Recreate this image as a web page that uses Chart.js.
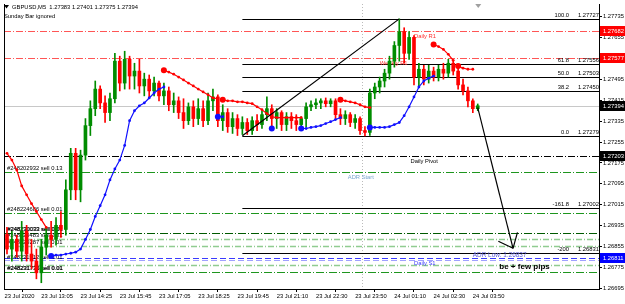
<!DOCTYPE html>
<html><head><meta charset="utf-8">
<script src="https://cdn.jsdelivr.net/npm/chart.js@4/dist/chart.umd.min.js"></script>
<style>html,body{margin:0;padding:0;background:#fff;overflow:hidden}canvas{display:block}</style>
</head><body>
<canvas id="c" width="625" height="304"></canvas>
<script>
// ---------- DATA ----------
const symbolTitle = 'GBPUSD,M5  1.27383 1.27401 1.27375 1.27394';
const subTitle = 'Sunday Bar ignored';

const openP = [
1.26901,1.26845,1.26882,1.26837,1.26913,1.26826,1.26799,1.26754,1.26852,1.26898,
1.26882,1.26936,1.26920,1.27072,1.27212,1.27072,1.27205,1.27318,1.27383,1.27458,
1.27405,1.27368,1.27421,1.27565,1.27481,1.27572,1.27508,1.27527,1.27470,1.27496,
1.27451,1.27481,1.27432,1.27451,1.27398,1.27413,1.27368,1.27337,1.27390,1.27345,
1.27383,1.27337,1.27413,1.27428,1.27337,1.27368,1.27314,1.27345,1.27307,1.27330,
1.27299,1.27337,1.27322,1.27360,1.27383,1.27345,1.27368,1.27322,1.27352,1.27337,
1.27322,1.27345,1.27390,1.27398,1.27405,1.27413,1.27402,1.27413,1.27360,1.27345,
1.27360,1.27330,1.27345,1.27299,1.27292,1.27443,1.27466,1.27489,1.27519,1.27565,
1.27625,1.27678,1.27595,1.27656,1.27504,1.27534,1.27496,1.27527,1.27504,1.27534,
1.27519,1.27557,1.27527,1.27474,1.27451,1.27413,1.27383];
const highP = [
1.26928,1.26913,1.26898,1.26951,1.26936,1.26882,1.26845,1.26882,1.26928,1.26951,
1.26966,1.26989,1.27110,1.27231,1.27231,1.27224,1.27345,1.27413,1.27489,1.27470,
1.27432,1.27443,1.27595,1.27584,1.27603,1.27584,1.27557,1.27572,1.27519,1.27512,
1.27504,1.27489,1.27481,1.27466,1.27443,1.27428,1.27421,1.27405,1.27413,1.27421,
1.27413,1.27443,1.27458,1.27436,1.27398,1.27383,1.27368,1.27360,1.27352,1.27345,
1.27352,1.27360,1.27375,1.27428,1.27398,1.27383,1.27375,1.27368,1.27368,1.27360,
1.27352,1.27405,1.27413,1.27421,1.27421,1.27424,1.27421,1.27421,1.27383,1.27375,
1.27368,1.27360,1.27352,1.27314,1.27458,1.27481,1.27504,1.27534,1.27584,1.27640,
1.27727,1.27693,1.27678,1.27663,1.27557,1.27549,1.27549,1.27542,1.27549,1.27557,
1.27572,1.27565,1.27542,1.27496,1.27466,1.27421,1.27401];
const lowP = [
1.26826,1.26799,1.26814,1.26799,1.26799,1.26769,1.26731,1.26716,1.26822,1.26852,
1.26860,1.26890,1.26898,1.27034,1.27034,1.27026,1.27186,1.27280,1.27356,1.27383,
1.27330,1.27337,1.27405,1.27451,1.27458,1.27458,1.27458,1.27443,1.27432,1.27428,
1.27432,1.27413,1.27398,1.27375,1.27368,1.27345,1.27307,1.27322,1.27314,1.27322,
1.27314,1.27322,1.27375,1.27314,1.27299,1.27292,1.27288,1.27280,1.27284,1.27284,
1.27284,1.27299,1.27307,1.27337,1.27314,1.27307,1.27299,1.27299,1.27307,1.27299,
1.27299,1.27314,1.27375,1.27383,1.27383,1.27390,1.27390,1.27345,1.27322,1.27322,
1.27314,1.27307,1.27284,1.27279,1.27280,1.27421,1.27443,1.27466,1.27496,1.27542,
1.27565,1.27557,1.27572,1.27474,1.27466,1.27474,1.27481,1.27489,1.27489,1.27496,
1.27504,1.27512,1.27458,1.27436,1.27390,1.27368,1.27375];
const closeP = [
1.26845,1.26882,1.26837,1.26913,1.26826,1.26799,1.26754,1.26852,1.26898,1.26882,
1.26936,1.26920,1.27072,1.27212,1.27072,1.27205,1.27318,1.27383,1.27458,1.27405,
1.27368,1.27421,1.27565,1.27481,1.27572,1.27508,1.27527,1.27470,1.27496,1.27451,
1.27481,1.27432,1.27451,1.27398,1.27413,1.27368,1.27337,1.27390,1.27345,1.27383,
1.27337,1.27413,1.27428,1.27337,1.27368,1.27314,1.27345,1.27307,1.27330,1.27299,
1.27337,1.27322,1.27360,1.27383,1.27345,1.27368,1.27322,1.27352,1.27337,1.27322,
1.27345,1.27390,1.27398,1.27405,1.27413,1.27402,1.27413,1.27360,1.27345,1.27360,
1.27330,1.27345,1.27299,1.27292,1.27443,1.27466,1.27489,1.27519,1.27565,1.27625,
1.27678,1.27595,1.27656,1.27504,1.27534,1.27496,1.27527,1.27504,1.27534,1.27519,
1.27557,1.27527,1.27474,1.27451,1.27413,1.27383,1.27394];

// indicator dot segments (value per bar, starting at given bar)
const redSegStarts = [0, 32, 44, 68, 87, 92];
const redSeg1 = [1.27212,1.27186,1.27148,1.27087,1.27053,1.27019,1.26989,1.26958,1.26928];
const redSeg2 = [1.27530,1.27523,1.27515,1.27504,1.27493,1.27481,1.27470,1.27458,1.27447,1.27436,1.27424,1.27421];
const redSeg3 = [1.27417,1.27413,1.27413,1.27409,1.27409,1.27405,1.27402,1.27390,1.27379,1.27364,1.27352,1.27349,1.27349,1.27349,1.27349,1.27349,1.27349];
const redSeg4 = [1.27417,1.27413,1.27409,1.27405,1.27398,1.27390,1.27387];
const redSeg5 = [1.27629,1.27621,1.27610,1.27591,1.27568];
const redSeg6 = [1.27546,1.27538,1.27534,1.27534];
const blueSegStarts = [9, 43, 54, 60, 74];
const blueSeg1 = [1.26818,1.26822,1.26822,1.26826,1.26829,1.26833,1.26845,1.26882,1.26920,1.26970,1.27011,1.27053,1.27110,1.27152,1.27186,1.27242,1.27337,1.27375,1.27394,1.27405,1.27424,1.27443,1.27458,1.27466];
const blueSeg2 = [1.27352,1.27352];
const blueSeg3 = [1.27307];
const blueSeg4 = [1.27307,1.27307,1.27311,1.27314,1.27318,1.27326,1.27333,1.27341,1.27349];
const blueSeg5 = [1.27311,1.27311,1.27311,1.27311,1.27314,1.27322,1.27330,1.27356,1.27390,1.27428,1.27466,1.27489,1.27500,1.27508];

// axis labels
const timeLabels = ['23 Jul 2020','23 Jul 13:05','23 Jul 14:25','23 Jul 15:45','23 Jul 17:05','23 Jul 18:25','23 Jul 19:45','23 Jul 21:10','23 Jul 22:30','23 Jul 23:50','24 Jul 01:10','24 Jul 02:30','24 Jul 03:50'];
const timeLabelBars = [-0.5,7,15,23,31,39,47,55,63,71,79,87,95];
const priceTicks = [1.26695,1.26775,1.26855,1.26935,1.27015,1.27095,1.27175,1.27255,1.27335,1.27415,1.27495,1.27575,1.27655,1.27735];

// price tags on the axis
const tagPrices = [1.27682, 1.27577, 1.27394, 1.27203, 1.26811];
const tagKinds  = ['red','red','black','black','blue'];

// pivot levels
const pivotNames  = ['Daily R1','Weekly R1','Daily Pivot','Daily S1'];
const pivotPrices = [1.27682, 1.27577, 1.27203, 1.26811];
const pivotLabelBars = [83, 76, 82.3, 83];

// order / other horizontal lines
const orderPrices = [1.27140, 1.26985, 1.26905, 1.26882, 1.26856, 1.26803, 1.26784, 1.26757];
const orderKinds  = ['green','green','dgreen','pgreen','pgreen','pblue','pgreen','green'];
const orderLabels = ['#248202932 sell 0.13','#248224686 sell 0.01','#248230033 sell 0.01','#248229483 sell 0.01','#248229287 sell 0.01','','','#248231735 sell 0.01'];
const s1OrderLabel = '#248231512 sell 0.01';
const bidPrice = 1.27394;

// ADR
const adrStartPrice = 1.27140, adrStartBar = 69.5;
const adrLowPrice = 1.26837, adrLowBar = 95;

// fibonacci
const fibLevels = ['100.0','61.8','50.0','38.2','0.0','-161.8','-200'];
const fibPrices = [1.27727, 1.27556, 1.27503, 1.27450, 1.27279, 1.27002, 1.26831];
const fibStartBar = 48;

// trend line and arrow (bar, price)
const trendFrom = [48, 1.27279], trendTo = [80, 1.27727];
const arrowFrom = [96, 1.27387], arrowTo = [103.2, 1.26848];
const arrowArmL = [100.2, 1.26875], arrowArmR = [104.1, 1.26909];
const noteText = 'be + few pips', noteBar = 100.4, notePrice = 1.26776;
const daySeparatorBar = 72.3;
const shiftMarkerBar = 96.1;

// ---------- STYLES ----------
const C_UP = '#008c00', C_DN = '#ff0000';
const lineStyles = {
  red:   {c:'#ff5555', d:[7,2,1,2], w:1},
  black: {c:'#000000', d:[7,2,1,2], w:1},
  green: {c:'#1e961e', d:[8,2,1,2], w:1},
  dgreen:{c:'#005a00', d:[8,2,1,2], w:1},
  pgreen:{c:'#90cc90', d:[6,2,1,2], w:1.3},
  blue:  {c:'#3a3aff', d:[6,3], w:1.2},
  pblue: {c:'#a0a0ff', d:[6,3], w:1.2}
};
const FONT = '"Liberation Sans", Arial, sans-serif';
Chart.defaults.font.family = FONT;

function candleColors(){ return openP.map((o,i)=> closeP[i] >= o ? C_UP : C_DN); }
function seg(start, arr){ return arr.map((v,k)=>({x:start+k, y:v})); }

const colors = candleColors();
const datasets = [
  {type:'bar', label:'wick', data: openP.map((o,i)=>({x:i, y:[lowP[i], highP[i]]})),
   backgroundColor: colors, barThickness:1, grouped:false, order:10},
  {type:'bar', label:'body', data: openP.map((o,i)=>({x:i, y:[o, closeP[i]]})),
   backgroundColor: colors, barThickness:3, grouped:false, minBarLength:1, order:9}
];
const redSegs = [redSeg1, redSeg2, redSeg3, redSeg4, redSeg5, redSeg6];
const blueSegs = [blueSeg1, blueSeg2, blueSeg3, blueSeg4, blueSeg5];
function dotSet(arr, start, color){
  // a segment that begins at the first bar continues from off-screen: no start marker
  return {type:'line', data: seg(start, arr), borderColor: color, backgroundColor: color,
    borderWidth: 1.2, pointRadius: arr.map((v,k)=> (k===0 && start>0) ? 3 : 1.4), pointBorderWidth:0,
    pointBackgroundColor: color, tension:0, order:1};
}
redSegs.forEach((s,i)=>datasets.push(dotSet(s, redSegStarts[i], '#ff0000')));
blueSegs.forEach((s,i)=>datasets.push(dotSet(s, blueSegStarts[i], '#1010ff')));

// ---------- OVERLAY PLUGIN ----------
function font(sz, bold){ return (bold?'bold ':'') + sz + 'px ' + FONT; }
const overlay = {
  id:'overlay',
  beforeDatasetsDraw(chart){
    const {ctx, chartArea:a, scales:{x, y}} = chart;
    ctx.save();
    ctx.beginPath(); ctx.rect(a.left, a.top, a.right-a.left, a.bottom-a.top); ctx.clip();
    const py = p => Math.round(y.getPixelForValue(p)) + 0.5;
    function hline(p, st, x0){
      ctx.strokeStyle = st.c; ctx.lineWidth = st.w; ctx.setLineDash(st.d);
      ctx.beginPath(); ctx.moveTo(x0==null?a.left:x0, py(p)); ctx.lineTo(a.right, py(p)); ctx.stroke();
    }
    // day separator
    ctx.strokeStyle = '#bbbbbb'; ctx.lineWidth = 1; ctx.setLineDash([1,2]);
    const sx = Math.round(x.getPixelForValue(daySeparatorBar))+0.5;
    ctx.beginPath(); ctx.moveTo(sx, a.top); ctx.lineTo(sx, a.bottom); ctx.stroke();
    // bid line
    ctx.strokeStyle = '#c8c8c8'; ctx.setLineDash([]);
    ctx.beginPath(); ctx.moveTo(a.left, py(bidPrice)); ctx.lineTo(a.right, py(bidPrice)); ctx.stroke();
    // pivots
    hline(pivotPrices[0], lineStyles.red);
    hline(pivotPrices[1], lineStyles.red);
    hline(pivotPrices[2], lineStyles.black);
    hline(pivotPrices[3], lineStyles.blue);
    // orders
    orderPrices.forEach((p,i)=>hline(p, lineStyles[orderKinds[i]]));
    // fib lines
    ctx.setLineDash([]); ctx.strokeStyle = '#000'; ctx.lineWidth = 1;
    const fx = x.getPixelForValue(fibStartBar);
    fibPrices.forEach(p=>{ ctx.beginPath(); ctx.moveTo(fx, py(p)); ctx.lineTo(a.right, py(p)); ctx.stroke(); });
    // texts behind candles
    ctx.textBaseline = 'top'; ctx.textAlign = 'left';
    ctx.font = font(5.8);
    const pivotColors = ['#ff3030','#ff3030','#000000','#3c3cff'];
    pivotNames.forEach((n,i)=>{ ctx.fillStyle = pivotColors[i]; ctx.fillText(n, x.getPixelForValue(pivotLabelBars[i]), py(pivotPrices[i])+2); });
    ctx.fillStyle = '#7aa6d0'; ctx.fillText('ADR Start', x.getPixelForValue(adrStartBar), py(adrStartPrice)+1.5);
    ctx.fillStyle = '#5a5ad8'; ctx.font = font(6.4);
    ctx.fillText('ADR Low: ' + adrLowPrice.toFixed(5), x.getPixelForValue(adrLowBar), py(adrLowPrice)+0.5);
    // order labels (above their lines, at left)
    ctx.font = font(5.8); ctx.fillStyle = '#000'; ctx.textBaseline = 'bottom';
    orderLabels.forEach((t,i)=>{ if(!t) return; ctx.fillText(t, a.left+3, py(orderPrices[i])-1);
      if (orderKinds[i]==='dgreen' || i===orderLabels.length-1) ctx.fillText(t, a.left+3.6, py(orderPrices[i])-1.4); });
    ctx.fillText(s1OrderLabel, a.left+3, py(pivotPrices[3])+2);
    ctx.restore();
  },
  afterDatasetsDraw(chart){
    const {ctx, chartArea:a, scales:{x, y}} = chart;
    ctx.save();
    const P = pt => [x.getPixelForValue(pt[0]), y.getPixelForValue(pt[1])];
    ctx.strokeStyle = '#000'; ctx.lineWidth = 1.2; ctx.setLineDash([]);
    function seg2(p0, p1){ const A=P(p0), B=P(p1); ctx.beginPath(); ctx.moveTo(A[0],A[1]); ctx.lineTo(B[0],B[1]); ctx.stroke(); }
    seg2(trendFrom, trendTo);
    seg2(arrowFrom, arrowTo);
    seg2(arrowTo, arrowArmL);
    seg2(arrowTo, arrowArmR);
    // fib labels
    ctx.font = font(5.8); ctx.fillStyle = '#000'; ctx.textBaseline = 'bottom';
    fibPrices.forEach((p,i)=>{
      const yy = Math.round(y.getPixelForValue(p)) - 0.5;
      ctx.textAlign = 'right'; ctx.fillText(fibLevels[i], a.right-30, yy);
      ctx.textAlign = 'left'; ctx.fillText(p.toFixed(5), a.right-21, yy);
    });
    // note
    ctx.font = font(8, true); ctx.textAlign = 'left'; ctx.textBaseline = 'middle';
    ctx.fillText(noteText, x.getPixelForValue(noteBar), y.getPixelForValue(notePrice));
    ctx.restore();
  },
  afterDraw(chart){
    const {ctx, chartArea:a, scales:{x, y}} = chart;
    ctx.save();
    // left frame
    ctx.strokeStyle = '#000'; ctx.lineWidth = 1;
    ctx.beginPath(); ctx.moveTo(a.left+0.5, a.top); ctx.lineTo(a.left+0.5, a.bottom); ctx.stroke();
    // price tags
    const tagColor = {red:'#ff0000', black:'#000000', blue:'#0000ff'};
    ctx.font = font(5.8); ctx.textBaseline = 'middle'; ctx.textAlign = 'left';
    tagPrices.forEach((p,i)=>{
      const yy = Math.round(y.getPixelForValue(p));
      ctx.fillStyle = tagColor[tagKinds[i]];
      ctx.fillRect(a.right+1, yy-5, 625-a.right-1, 10);
      ctx.fillStyle = '#fff'; ctx.fillText(p.toFixed(5), a.right+4, yy+0.5);
    });
    // header
    ctx.fillStyle = '#000'; ctx.textBaseline = 'middle';
    ctx.beginPath(); ctx.moveTo(4,5); ctx.lineTo(9,5); ctx.lineTo(6.5,8.5); ctx.closePath(); ctx.fill();
    ctx.font = font(5.8);
    ctx.fillText(symbolTitle, 12, 7);
    ctx.fillText(subTitle, 4, 16);
    // shift marker
    const mx = x.getPixelForValue(shiftMarkerBar);
    ctx.fillStyle = '#a0a0a0';
    ctx.beginPath(); ctx.moveTo(mx-3, a.top); ctx.lineTo(mx+3, a.top); ctx.lineTo(mx, a.top+4); ctx.closePath(); ctx.fill();
    ctx.restore();
  }
};

new Chart(document.getElementById('c'), {
  type:'bar',
  data:{ datasets },
  options:{
    responsive:false, animation:false, devicePixelRatio:1, events:[],
    layout:{ padding:{left:2, top:2, right:0, bottom:0} },
    plugins:{ legend:{display:false}, tooltip:{enabled:false} },
    scales:{
      x:{ type:'linear', min:-0.61, max:120.73, offset:false, position:'bottom',
        grid:{ drawOnChartArea:false, drawTicks:true, tickLength:3, color:'#000' },
        border:{ display:true, color:'#000' },
        afterBuildTicks: s => { s.ticks = timeLabelBars.map(v=>({value:v})); },
        afterFit: s => { s.height = 15; s.paddingLeft = 0; s.paddingRight = 0; },
        ticks:{ autoSkip:false, maxRotation:0, minRotation:0, align:'start', padding:1,
          font:{size:5.8}, color:'#000', callback:(v,i)=>timeLabels[i] }
      },
      y:{ type:'linear', position:'right', min:1.26692, max:1.27784,
        grid:{ drawOnChartArea:false, drawTicks:true, tickLength:3, color:'#000' },
        border:{ display:true, color:'#000' },
        afterBuildTicks: s => { s.ticks = priceTicks.map(v=>({value:v})); },
        afterFit: s => { s.width = 26; s.paddingTop = 0; s.paddingBottom = 0; },
        ticks:{ padding:1, font:{size:5.8}, color:'#000', callback:v=>v.toFixed(5) }
      }
    }
  },
  plugins:[overlay]
});
</script>
</body></html>
